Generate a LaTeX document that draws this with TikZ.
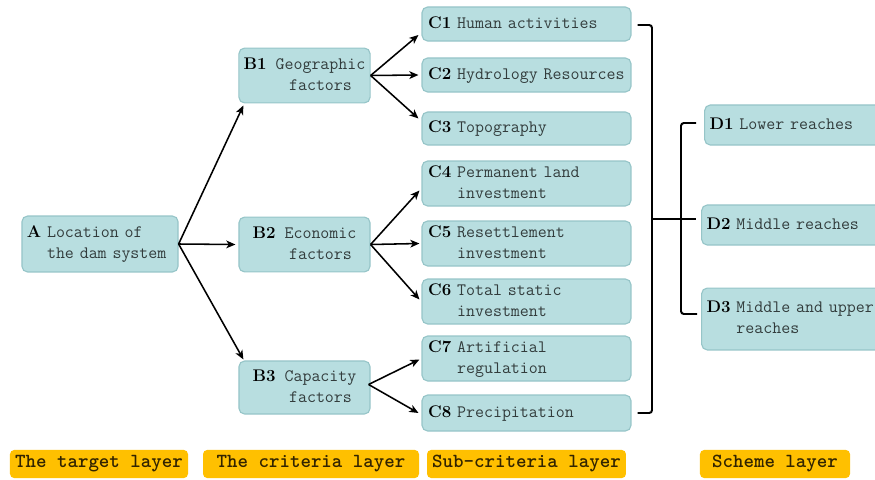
\documentclass[tikz,border=0pt]{standalone}
\usepackage{tikz}
\usetikzlibrary{calc,arrows,arrows.meta}
\usepackage{xcolor}

\definecolor{boxfill}{RGB}{184,222,224}
\definecolor{boxline}{RGB}{150,197,200}
\definecolor{boxtext}{RGB}{50,60,60}
\definecolor{layerfill}{RGB}{255,192,0}
\definecolor{layertext}{RGB}{50,36,0}

\newcommand{\itm}[2]{\begin{tabular}{@{}l@{~}l@{}}\textbf{\rmfamily\color{black}\fontsize{12}{15}\selectfont#1} & #2\end{tabular}}
\newcommand{\itmm}[4][l]{\begin{tabular}{@{}l@{~}#1@{}}\textbf{\rmfamily\color{black}\fontsize{12}{15}\selectfont#2} & #3\\ & #4\end{tabular}}

\tikzset{
	box/.style={draw=boxline, fill=boxfill, line width=0.8pt, rounded corners=4pt, text=boxtext,
		font=\ttfamily\fontsize{12.4}{15}\selectfont, inner ysep=1pt},
	abox/.style={box, align=left, text width=104pt, inner xsep=3.5pt, minimum height=39.8pt},
	bbox/.style={box, align=center, minimum width=93.2pt, minimum height=39pt},
	cbox/.style={box, align=left, text width=140pt, inner xsep=4.3pt},
	dbox/.style={box, align=left, text width=140pt, inner xsep=3.5pt},
	layer/.style={fill=layerfill, rounded corners=3pt, text=layertext, minimum height=20pt,
		font=\ttfamily\bfseries\fontsize{14.2}{16}\selectfont, inner sep=0pt},
	link/.style={-{Stealth[length=6.5pt, width=5.5pt, inset=1.8pt]}, line width=1.1pt},
	bracket/.style={line width=1.4pt, rounded corners=2pt}
}

\begin{document}
\begin{tikzpicture}[x=0.025cm, y=-0.025cm]
			\useasboundingbox (0,0) rectangle (875,480);
			\node[abox] (A) at (100,244) {\itmm{A}{Location of}{the dam system}};
			\node[bbox] (B1) at (304.5,75.5) {\itmm[c]{B1}{Geographic}{factors}};
			\node[bbox] (B2) at (304.5,244.5) {\itmm[c]{B2}{Economic}{factors}};
			\node[bbox, minimum height=37.7pt] (B3) at (304.5,387.5) {\itmm[c]{B3}{Capacity}{factors}};
			\node[cbox, minimum height=24.2pt] (C1) at (526.5,24) {\itm{C1}{Human activities}};
			\node[cbox, minimum height=24.2pt] (C2) at (526.5,75) {\itm{C2}{Hydrology Resources}};
			\node[cbox, minimum height=23.5pt] (C3) at (526.5,128.5) {\itm{C3}{Topography}};
			\node[cbox, minimum height=30.6pt] (C4) at (526.5,183.5) {\itmm{C4}{Permanent land}{investment}};
			\node[cbox, minimum height=30.6pt] (C5) at (526.5,243.5) {\itmm{C5}{Resettlement}{investment}};
			\node[cbox, minimum height=30.6pt] (C6) at (526.5,301.5) {\itmm{C6}{Total static}{investment}};
			\node[cbox, minimum height=30.6pt] (C7) at (526.5,358.5) {\itmm{C7}{Artificial}{regulation}};
			\node[cbox, minimum height=25.6pt] (C8) at (526.5,413) {\itm{C8}{Precipitation}};
			\node[dbox, minimum height=28.5pt] (D1) at (808,125) {\itm{D1}{Lower reaches}};
			\node[dbox, minimum height=28.5pt] (D2) at (805,225) {\itm{D2}{Middle reaches}};
			\node[dbox, minimum height=44pt] (D3) at (805,319) {\itmm{D3}{Middle and upper}{reaches}};
			\node[layer, minimum width=126.6pt] (L1) at (99,464) {The target layer};
			\node[layer, minimum width=153.6pt] (L2) at (311,464) {The criteria layer};
			\node[layer, minimum width=141.5pt] (L3) at (526.5,464) {Sub-criteria layer};
			\node[layer, minimum width=106.7pt] (L4) at (775,464) {Scheme layer};
			\draw[link] (A.east) -- ($(B1.south west)+(5,2)$);
			\draw[link] (A.east) -- ($(B2.west)+(-3,0)$);
			\draw[link] (A.east) -- ($(B3.north west)+(5,-1)$);
			\draw[link] (B1.east) -- ($(C1.west)+(-3,11)$);
			\draw[link] (B1.east) -- ($(C2.west)+(-3,0)$);
			\draw[link] (B1.east) -- ($(C3.west)+(-3,-10)$);
			\draw[link] (B2.east) -- ($(C4.west)+(-2,7)$);
			\draw[link] (B2.east) -- ($(C5.west)+(-2,0)$);
			\draw[link] (B2.east) -- ($(C6.west)+(-2,-2)$);
			\draw[link] ($(B3.east)+(-2,-3)$) -- ($(C7.west)+(-2,1)$);
			\draw[link] ($(B3.east)+(-2,-3)$) -- ($(C8.west)+(-3,0)$);
			\coordinate (rail) at (652,219);
			\coordinate (rail2) at (681,219);
			\draw[bracket] ($(C1.east)+(6,1)$) -| (rail) |- ($(C8.east)+(6,0)$);
			\draw[bracket] (rail) -- ($(D2.west)+(-5,-6)$);
			\draw[bracket] ($(D1.west)+(-8,-2)$) -| (rail2) |- ($(D3.west)+(-4,-5)$);
			\end{tikzpicture}
\end{document}
